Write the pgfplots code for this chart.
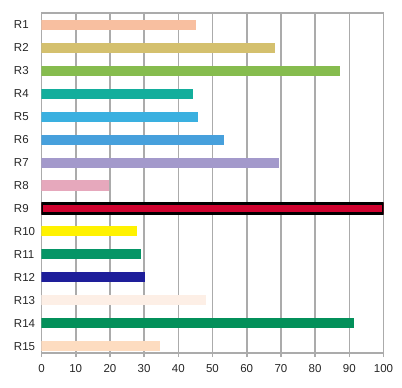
\documentclass[border=0pt]{standalone}
\usepackage{pgfplots}
\pgfplotsset{compat=1.18}
\usepackage{fontspec}
\setmainfont{Liberation Sans}
\definecolor{gridgray}{HTML}{ABABAB}
\definecolor{c1}{HTML}{F8BFA0}
\definecolor{c2}{HTML}{D4C06E}
\definecolor{c3}{HTML}{86BC4E}
\definecolor{c4}{HTML}{13AE9C}
\definecolor{c5}{HTML}{3AB0E0}
\definecolor{c6}{HTML}{47A0DC}
\definecolor{c7}{HTML}{A399CB}
\definecolor{c8}{HTML}{E6A8BC}
\definecolor{c9}{HTML}{D0022F}
\definecolor{c10}{HTML}{FFF200}
\definecolor{c11}{HTML}{059566}
\definecolor{c12}{HTML}{1E1E9A}
\definecolor{c13}{HTML}{FDEFE6}
\definecolor{c14}{HTML}{03905A}
\definecolor{c15}{HTML}{FDDCC0}
\begin{document}
\begin{tikzpicture}
\begin{axis}[name=ax, scale only axis, width=342pt, height=340pt,
  xmin=0, xmax=100, ymin=0.48, ymax=15.3, y dir=reverse,
  xtick={0,10,...,100}, ytick={1,...,15}, xtick pos=bottom,
  yticklabels={R1,R2,R3,R4,R5,R6,R7,R8,R9,R10,R11,R12,R13,R14,R15},
  xmajorgrids, major grid style={color=gridgray, line width=1.6pt},
  axis line style={gridgray, line width=1.6pt},
  xtick style={gridgray, line width=1.6pt}, ytick style={draw=none},
  tick align=outside, major tick length=4pt,
  /pgf/number format/assume math mode=true,
  ticklabel style={font=\fontsize{11.5}{13}\selectfont, text=black!85},
  yticklabel style={text width=20pt, align=left},
  xticklabel style={yshift=-4pt},
  xbar, bar width=0.44, bar shift=0pt,
  every axis plot/.append style={draw=none},
]
\addplot[fill=c1] coordinates {(45.2,1)};
\addplot[fill=c2] coordinates {(68.2,2)};
\addplot[fill=c3] coordinates {(87.3,3)};
\addplot[fill=c4] coordinates {(44.4,4)};
\addplot[fill=c5] coordinates {(45.9,5)};
\addplot[fill=c6] coordinates {(53.4,6)};
\addplot[fill=c7] coordinates {(69.5,7)};
\addplot[fill=c8] coordinates {(19.8,8)};
\addplot[fill=c9, draw=black, line width=3pt] coordinates {(100,9)};
\addplot[fill=c10] coordinates {(27.8,10)};
\addplot[fill=c11] coordinates {(29.0,11)};
\addplot[fill=c12] coordinates {(30.2,12)};
\addplot[fill=c13] coordinates {(48.0,13)};
\addplot[fill=c14] coordinates {(91.5,14)};
\addplot[fill=c15] coordinates {(34.6,15)};
\end{axis}
\path ([xshift=-41.5pt,yshift=-35pt]ax.south west) rectangle ([xshift=18.5pt,yshift=13pt]ax.north east);
\end{tikzpicture}
\end{document}
